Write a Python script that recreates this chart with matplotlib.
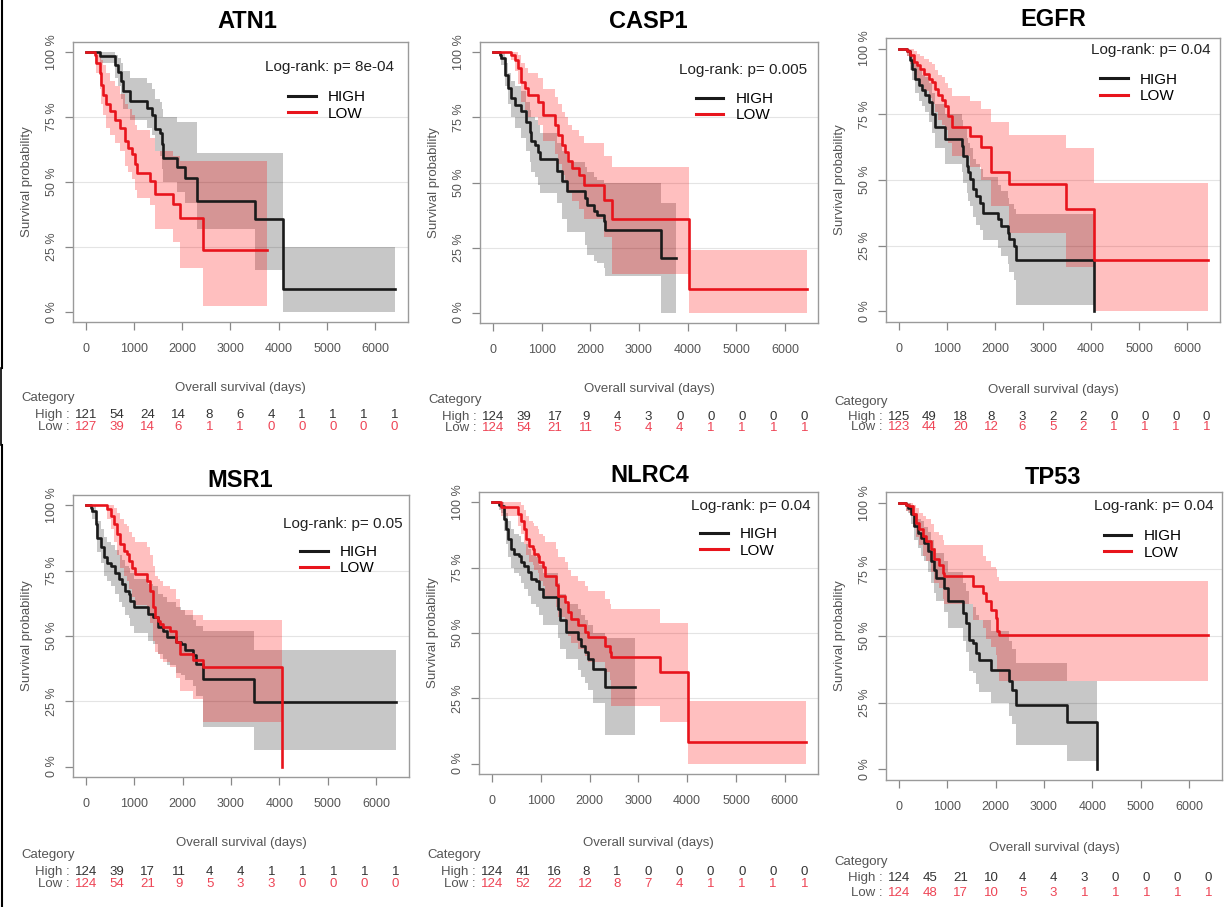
import numpy as np
import matplotlib
matplotlib.use("Agg")
import matplotlib.pyplot as plt
from matplotlib.lines import Line2D
from matplotlib.transforms import blended_transform_factory

plt.rcParams['font.family'] = ['Liberation Sans', 'DejaVu Sans']

W, H = 1231, 907

# ---------------- data ----------------
genes = ["ATN1", "CASP1", "EGFR", "MSR1", "NLRC4", "TP53"]
pvals = ["8e-04", "0.005", "0.04", "0.05", "0.04", "0.04"]
risk_times = [0, 640, 1280, 1920, 2560, 3200, 3840, 4480, 5120, 5760, 6400]

# ATN1
atn1_high_t = [0, 290, 602, 671, 740, 775, 913, 1260, 1363, 1433, 1536, 1571, 1606, 1882, 2055, 2298, 3509, 4083, 6415]
atn1_high_s = [1.0, 0.985, 0.951, 0.926, 0.888, 0.850, 0.811, 0.785, 0.760, 0.703, 0.690, 0.645, 0.594, 0.556, 0.517, 0.428, 0.358, 0.089, 0.089]
atn1_high_hi = [1.0, 1.0, 0.99, 0.98, 0.96, 0.93, 0.90, 0.88, 0.86, 0.82, 0.81, 0.78, 0.75, 0.73, 0.73, 0.61, 0.61, 0.25, 0.25]
atn1_high_lo = [1.0, 0.96, 0.90, 0.87, 0.82, 0.78, 0.74, 0.71, 0.68, 0.62, 0.60, 0.55, 0.50, 0.46, 0.42, 0.32, 0.16, 0.0, 0.0]
atn1_low_t = [0, 187, 221, 291, 325, 360, 429, 498, 602, 706, 810, 879, 948, 1017, 1052, 1329, 1433, 1813, 1952, 2436, 3751]
atn1_low_s = [1, 0.99, 0.96, 0.92, 0.875, 0.837, 0.80, 0.773, 0.741, 0.709, 0.658, 0.632, 0.607, 0.568, 0.536, 0.505, 0.453, 0.415, 0.36, 0.236, 0.236]
atn1_low_hi = [1, 1, 1, 0.99, 0.97, 0.95, 0.92, 0.89, 0.87, 0.84, 0.80, 0.78, 0.76, 0.72, 0.70, 0.67, 0.62, 0.60, 0.58, 0.58, 0.58]
atn1_low_lo = [1, 0.96, 0.92, 0.86, 0.80, 0.76, 0.71, 0.68, 0.65, 0.62, 0.56, 0.54, 0.51, 0.47, 0.44, 0.41, 0.32, 0.27, 0.17, 0.02, 0.02]
atn1_risk_high = [121, 54, 24, 14, 8, 6, 4, 1, 1, 1, 1]
atn1_risk_low = [127, 39, 14, 6, 1, 1, 0, 0, 0, 0, 0]

# CASP1
casp1_high_t = [0, 138, 172, 241, 310, 379, 448, 586, 690, 759, 793, 862, 931, 966, 1310, 1414, 1517, 1897, 1931, 2069, 2138, 2276, 2310, 3448, 3759]
casp1_high_s = [1, 0.99, 0.977, 0.913, 0.862, 0.824, 0.798, 0.773, 0.734, 0.696, 0.658, 0.645, 0.619, 0.59, 0.543, 0.505, 0.466, 0.441, 0.415, 0.39, 0.377, 0.351, 0.319, 0.211, 0.211]
casp1_high_hi = [1, 1, 1, 0.96, 0.92, 0.89, 0.87, 0.85, 0.81, 0.78, 0.75, 0.74, 0.72, 0.69, 0.65, 0.62, 0.58, 0.56, 0.54, 0.52, 0.51, 0.50, 0.50, 0.42, 0.42]
casp1_high_lo = [1, 0.97, 0.95, 0.87, 0.80, 0.75, 0.71, 0.67, 0.62, 0.58, 0.54, 0.52, 0.49, 0.46, 0.42, 0.36, 0.31, 0.26, 0.22, 0.20, 0.19, 0.17, 0.14, 0.0, 0.0]
casp1_low_t = [0, 379, 448, 517, 586, 655, 724, 931, 1034, 1276, 1345, 1414, 1483, 1552, 1621, 1759, 1862, 2276, 2448, 4034, 6448]
casp1_low_s = [1, 0.99, 0.971, 0.939, 0.888, 0.862, 0.837, 0.811, 0.760, 0.722, 0.683, 0.645, 0.619, 0.581, 0.556, 0.530, 0.492, 0.434, 0.361, 0.089, 0.089]
casp1_low_hi = [1, 1, 1, 0.99, 0.96, 0.94, 0.92, 0.90, 0.86, 0.83, 0.80, 0.77, 0.75, 0.72, 0.70, 0.68, 0.65, 0.60, 0.56, 0.24, 0.24]
casp1_low_lo = [1, 0.97, 0.93, 0.88, 0.81, 0.78, 0.75, 0.72, 0.66, 0.61, 0.57, 0.53, 0.50, 0.46, 0.43, 0.40, 0.36, 0.29, 0.15, 0.0, 0.0]
casp1_risk_high = [124, 39, 17, 9, 4, 3, 0, 0, 0, 0, 0]
casp1_risk_low = [124, 54, 21, 11, 5, 4, 4, 1, 1, 1, 1]

# EGFR
egfr_high_t = [0, 172, 241, 275, 344, 412, 481, 550, 619, 687, 756, 962, 1306, 1340, 1409, 1443, 1478, 1546, 1615, 1684, 1753, 2062, 2131, 2268, 2302, 2405, 2440, 4055]
egfr_high_s = [1, 0.99, 0.955, 0.924, 0.885, 0.860, 0.841, 0.822, 0.796, 0.752, 0.701, 0.656, 0.631, 0.592, 0.554, 0.529, 0.503, 0.465, 0.439, 0.414, 0.376, 0.350, 0.325, 0.299, 0.274, 0.248, 0.197, 0.0]
egfr_high_hi = [1, 1, 0.99, 0.97, 0.94, 0.92, 0.90, 0.89, 0.87, 0.83, 0.79, 0.75, 0.73, 0.70, 0.66, 0.64, 0.62, 0.58, 0.56, 0.54, 0.51, 0.48, 0.46, 0.43, 0.41, 0.39, 0.37, 0.37]
egfr_high_lo = [1, 0.97, 0.92, 0.88, 0.83, 0.80, 0.78, 0.76, 0.72, 0.68, 0.62, 0.56, 0.53, 0.49, 0.45, 0.42, 0.40, 0.36, 0.33, 0.31, 0.27, 0.24, 0.21, 0.18, 0.15, 0.12, 0.025, 0.025]
egfr_low_t = [0, 172, 241, 309, 378, 447, 515, 619, 687, 756, 825, 893, 962, 1031, 1100, 1478, 1718, 1924, 2302, 3471, 4055, 6426]
egfr_low_s = [1, 0.99, 0.975, 0.949, 0.936, 0.924, 0.904, 0.885, 0.873, 0.847, 0.822, 0.803, 0.783, 0.745, 0.701, 0.669, 0.624, 0.529, 0.484, 0.389, 0.197, 0.197]
egfr_low_hi = [1, 1, 1, 0.99, 0.98, 0.97, 0.96, 0.95, 0.94, 0.92, 0.90, 0.89, 0.87, 0.85, 0.82, 0.80, 0.77, 0.72, 0.67, 0.62, 0.49, 0.49]
egfr_low_lo = [1, 0.97, 0.94, 0.90, 0.88, 0.86, 0.84, 0.81, 0.79, 0.76, 0.73, 0.71, 0.69, 0.64, 0.59, 0.55, 0.50, 0.40, 0.30, 0.17, 0.0, 0.0]
egfr_risk_high = [125, 49, 18, 8, 3, 2, 2, 0, 0, 0, 0]
egfr_risk_low = [123, 44, 20, 12, 6, 5, 2, 1, 1, 1, 1]

# MSR1
msr1_high_t = [0, 102, 136, 205, 239, 307, 375, 443, 511, 613, 682, 750, 818, 886, 920, 988, 1295, 1397, 1500, 1602, 1670, 1874, 1977, 2045, 2215, 2284, 2420, 3477, 6409]
msr1_high_s = [1, 0.99, 0.978, 0.928, 0.877, 0.839, 0.801, 0.781, 0.769, 0.743, 0.718, 0.699, 0.673, 0.661, 0.635, 0.610, 0.585, 0.572, 0.534, 0.521, 0.496, 0.477, 0.470, 0.445, 0.426, 0.394, 0.337, 0.248, 0.248]
msr1_high_hi = [1, 1, 1, 0.97, 0.94, 0.91, 0.88, 0.86, 0.85, 0.83, 0.81, 0.79, 0.77, 0.76, 0.74, 0.72, 0.70, 0.69, 0.66, 0.65, 0.63, 0.61, 0.60, 0.58, 0.56, 0.54, 0.52, 0.445, 0.445]
msr1_high_lo = [1, 0.97, 0.95, 0.88, 0.82, 0.78, 0.73, 0.71, 0.69, 0.66, 0.63, 0.61, 0.58, 0.57, 0.54, 0.51, 0.48, 0.47, 0.43, 0.41, 0.39, 0.36, 0.35, 0.33, 0.31, 0.27, 0.15, 0.065, 0.065]
msr1_low_t = [0, 443, 511, 579, 648, 716, 784, 852, 886, 954, 1022, 1261, 1329, 1397, 1431, 1500, 1534, 1602, 1738, 1874, 1943, 2215, 2420, 4056]
msr1_low_s = [1, 0.985, 0.959, 0.928, 0.889, 0.851, 0.826, 0.813, 0.788, 0.762, 0.737, 0.712, 0.673, 0.610, 0.572, 0.559, 0.546, 0.534, 0.521, 0.477, 0.432, 0.407, 0.381, 0.0]
msr1_low_hi = [1, 1, 1, 0.99, 0.97, 0.95, 0.93, 0.92, 0.90, 0.88, 0.86, 0.84, 0.81, 0.77, 0.73, 0.72, 0.71, 0.69, 0.68, 0.64, 0.60, 0.58, 0.56, 0.56]
msr1_low_lo = [1, 0.95, 0.91, 0.86, 0.81, 0.76, 0.73, 0.71, 0.68, 0.65, 0.62, 0.59, 0.55, 0.48, 0.44, 0.43, 0.41, 0.40, 0.38, 0.34, 0.29, 0.26, 0.17, 0.17]
msr1_risk_high = [124, 39, 17, 11, 4, 4, 1, 1, 1, 1, 1]
msr1_risk_low = [124, 54, 21, 9, 5, 3, 3, 0, 0, 0, 0]

# NLRC4
nlrc4_high_t = [0, 151, 185, 254, 288, 322, 391, 460, 562, 597, 665, 734, 802, 905, 974, 1043, 1351, 1385, 1523, 1763, 1831, 1900, 1968, 2071, 2311, 2929]
nlrc4_high_s = [1, 0.99, 0.987, 0.936, 0.898, 0.860, 0.822, 0.803, 0.796, 0.771, 0.758, 0.732, 0.707, 0.701, 0.669, 0.637, 0.592, 0.548, 0.503, 0.478, 0.452, 0.427, 0.401, 0.363, 0.293, 0.293]
nlrc4_high_hi = [1, 1, 1, 0.98, 0.96, 0.93, 0.90, 0.88, 0.87, 0.85, 0.84, 0.82, 0.80, 0.79, 0.76, 0.73, 0.69, 0.65, 0.61, 0.59, 0.57, 0.55, 0.53, 0.50, 0.48, 0.48]
nlrc4_high_lo = [1, 0.97, 0.96, 0.89, 0.84, 0.79, 0.75, 0.73, 0.72, 0.69, 0.67, 0.64, 0.61, 0.60, 0.57, 0.53, 0.48, 0.44, 0.40, 0.36, 0.33, 0.31, 0.28, 0.23, 0.11, 0.11]
nlrc4_low_t = [0, 185, 528, 597, 665, 700, 768, 837, 871, 940, 974, 1043, 1077, 1317, 1351, 1488, 1557, 1626, 1763, 1900, 1968, 2311, 2414, 2449, 3443, 4026, 6427]
nlrc4_low_s = [1, 0.981, 0.955, 0.930, 0.898, 0.860, 0.834, 0.822, 0.803, 0.796, 0.771, 0.752, 0.720, 0.682, 0.643, 0.618, 0.580, 0.554, 0.529, 0.503, 0.484, 0.452, 0.427, 0.408, 0.350, 0.083, 0.083]
nlrc4_low_hi = [1, 1, 1, 0.99, 0.97, 0.95, 0.93, 0.92, 0.91, 0.90, 0.88, 0.87, 0.85, 0.82, 0.79, 0.77, 0.74, 0.72, 0.70, 0.68, 0.66, 0.63, 0.61, 0.59, 0.54, 0.24, 0.24]
nlrc4_low_lo = [1, 0.95, 0.91, 0.88, 0.84, 0.80, 0.77, 0.76, 0.74, 0.73, 0.70, 0.68, 0.64, 0.60, 0.56, 0.53, 0.49, 0.46, 0.44, 0.41, 0.39, 0.35, 0.32, 0.22, 0.16, 0.0, 0.0]
nlrc4_risk_high = [124, 41, 16, 8, 1, 0, 0, 0, 0, 0, 0]
nlrc4_risk_low = [124, 52, 22, 12, 8, 7, 4, 1, 1, 1, 1]

# TP53
tp53_high_t = [0, 151, 185, 254, 323, 391, 460, 528, 597, 666, 734, 769, 940, 1009, 1318, 1386, 1455, 1524, 1592, 1661, 1901, 2279, 2347, 2416, 3480, 4097]
tp53_high_s = [1, 0.99, 0.981, 0.956, 0.912, 0.887, 0.868, 0.850, 0.818, 0.781, 0.749, 0.718, 0.680, 0.630, 0.586, 0.549, 0.486, 0.474, 0.436, 0.411, 0.373, 0.330, 0.298, 0.242, 0.179, 0.0]
tp53_high_hi = [1, 1, 1, 0.99, 0.96, 0.94, 0.93, 0.91, 0.89, 0.86, 0.83, 0.81, 0.78, 0.74, 0.70, 0.67, 0.62, 0.61, 0.58, 0.56, 0.52, 0.48, 0.45, 0.40, 0.33, 0.33]
tp53_high_lo = [1, 0.97, 0.96, 0.92, 0.86, 0.83, 0.80, 0.78, 0.74, 0.70, 0.66, 0.63, 0.59, 0.53, 0.48, 0.44, 0.37, 0.36, 0.32, 0.29, 0.25, 0.20, 0.17, 0.09, 0.03, 0.03]
tp53_low_t = [0, 151, 220, 288, 357, 426, 494, 563, 666, 734, 837, 906, 940, 1524, 1730, 1798, 1901, 2004, 2038, 2073, 6397]
tp53_low_s = [1, 0.99, 0.987, 0.956, 0.925, 0.900, 0.875, 0.856, 0.825, 0.787, 0.768, 0.737, 0.724, 0.687, 0.662, 0.630, 0.599, 0.568, 0.518, 0.505, 0.505]
tp53_low_hi = [1, 1, 1, 0.99, 0.98, 0.96, 0.95, 0.94, 0.92, 0.89, 0.88, 0.86, 0.84, 0.84, 0.80, 0.78, 0.76, 0.75, 0.72, 0.705, 0.705]
tp53_low_lo = [1, 0.97, 0.96, 0.91, 0.87, 0.84, 0.80, 0.78, 0.74, 0.70, 0.68, 0.64, 0.62, 0.56, 0.53, 0.49, 0.46, 0.43, 0.37, 0.33, 0.33]
tp53_risk_high = [124, 45, 21, 10, 4, 4, 3, 0, 0, 0, 0]
tp53_risk_low = [124, 48, 17, 10, 5, 3, 1, 1, 1, 1, 1]

panels = [
    dict(high=(atn1_high_t, atn1_high_s, atn1_high_lo, atn1_high_hi), low=(atn1_low_t, atn1_low_s, atn1_low_lo, atn1_low_hi), rh=atn1_risk_high, rl=atn1_risk_low),
    dict(high=(casp1_high_t, casp1_high_s, casp1_high_lo, casp1_high_hi), low=(casp1_low_t, casp1_low_s, casp1_low_lo, casp1_low_hi), rh=casp1_risk_high, rl=casp1_risk_low),
    dict(high=(egfr_high_t, egfr_high_s, egfr_high_lo, egfr_high_hi), low=(egfr_low_t, egfr_low_s, egfr_low_lo, egfr_low_hi), rh=egfr_risk_high, rl=egfr_risk_low),
    dict(high=(msr1_high_t, msr1_high_s, msr1_high_lo, msr1_high_hi), low=(msr1_low_t, msr1_low_s, msr1_low_lo, msr1_low_hi), rh=msr1_risk_high, rl=msr1_risk_low),
    dict(high=(nlrc4_high_t, nlrc4_high_s, nlrc4_high_lo, nlrc4_high_hi), low=(nlrc4_low_t, nlrc4_low_s, nlrc4_low_lo, nlrc4_low_hi), rh=nlrc4_risk_high, rl=nlrc4_risk_low),
    dict(high=(tp53_high_t, tp53_high_s, tp53_high_lo, tp53_high_hi), low=(tp53_low_t, tp53_low_s, tp53_low_lo, tp53_low_hi), rh=tp53_risk_high, rl=tp53_risk_low),
]

# ---------------- layout (pixels) ----------------
# axes box: left, top, right, bottom
boxes = [(73, 42, 408, 322), (480, 42, 818, 323), (886, 38, 1220, 322),
         (73, 495, 409, 777), (479, 492, 818, 774), (886, 492, 1222, 780)]
titles_xy = [(247, 22), (648, 22), (1053, 20), (240, 480), (650, 476), (1053, 478)]
logrank_xy = [(6380, 0.945), (6448, 0.932), (6495, 0.994), (6544, 0.928), (6530, 0.987), (6500, 0.987)]
legend_xy = [(4200, 0.795), (4172, 0.79), (4192, 0.85), (4431, 0.79), (4266, 0.847), (4235, 0.843)]
xlabel_y = [388, 389, 390, 843, 843, 848]
risk_rows_y = [(398, 415, 427), (400, 417, 428), (402, 417, 427), (855, 872, 884), (855, 872, 884), (862, 878, 893)]

XLIM = (-265, 6680)
YLIM = (-0.04, 1.04)

BLACK = "#1a1a1a"
RED = "#e8141c"
GRAY_TXT = "#555555"
SMALL = 9.5

fig = plt.figure(figsize=(W / 100, H / 100), dpi=100)
fig.patch.set_facecolor("white")

def fx(x):
    return x / W

def fy(y):
    return 1 - y / H

for i, (p, box) in enumerate(zip(panels, boxes)):
    l, t, r, b = box
    ax = fig.add_axes([fx(l), fy(b), (r - l) / W, (b - t) / H])
    ax.set_xlim(*XLIM)
    ax.set_ylim(*YLIM)
    for yv in (0.25, 0.5, 0.75):
        ax.axhline(yv, color="#e4e4e4", lw=0.8, zorder=0)

    ht, hs, hlo, hhi = p["high"]
    lt, ls, llo, lhi = p["low"]
    ax.fill_between(ht, hlo, hhi, step="post", color="black", alpha=0.22, lw=0, zorder=1)
    ax.fill_between(lt, llo, lhi, step="post", color="#ff0000", alpha=0.25, lw=0, zorder=1)
    ax.step(ht, hs, where="post", color=BLACK, lw=1.9, zorder=3)
    ax.step(lt, ls, where="post", color=RED, lw=1.9, zorder=3)

    ax.set_xticks([0, 1000, 2000, 3000, 4000, 5000, 6000])
    ax.set_xticklabels(["0", "1000", "2000", "3000", "4000", "5000", "6000"])
    ax.set_yticks([0, 0.25, 0.5, 0.75, 1.0])
    ax.set_yticklabels(["0 %", "25 %", "50 %", "75 %", "100 %"], rotation=90, va="center")
    ax.tick_params(axis="both", direction="out", length=6, width=0.9, color="#888888",
                   labelcolor=GRAY_TXT, labelsize=9)
    ax.tick_params(axis="x", pad=9)
    ax.tick_params(axis="y", pad=5)
    for sp in ax.spines.values():
        sp.set_color("#9a9a9a")
        sp.set_linewidth(1.0)

    ax.set_ylabel("Survival probability", color=GRAY_TXT, fontsize=SMALL, labelpad=9)

    # log-rank text
    lx, ly = logrank_xy[i]
    ax.text(lx, ly, "Log-rank: p= " + pvals[i], ha="right", va="center",
            fontsize=11, color="#222222")

    # legend
    gx, gy = legend_xy[i]
    ax_fx = (gx - XLIM[0]) / (XLIM[1] - XLIM[0])
    ax_fy = (gy - YLIM[0]) / (YLIM[1] - YLIM[0])
    handles = [Line2D([], [], color=BLACK, lw=2.2), Line2D([], [], color=RED, lw=2.2)]
    ax.legend(handles, ["HIGH", "LOW"], loc="center left", bbox_to_anchor=(ax_fx, ax_fy),
              frameon=False, fontsize=11, handlelength=1.8, handletextpad=0.8,
              labelspacing=0.15, borderpad=0, borderaxespad=0)

    # title
    tx, ty = titles_xy[i]
    fig.text(fx(tx), fy(ty), genes[i], ha="center", va="center", fontsize=17,
             fontweight="bold", color="black")

    # x label
    fig.text(fx((l + r) / 2), fy(xlabel_y[i]), "Overall survival (days)", ha="center",
             va="center", fontsize=SMALL, color=GRAY_TXT)

    # risk table
    cy, hy, lyy = risk_rows_y[i]
    trans = blended_transform_factory(ax.transData, fig.transFigure)
    fig.text(fx(l - 52), fy(cy), "Category", ha="left", va="center", fontsize=SMALL, color=GRAY_TXT)
    ax.text(-340, fy(hy), "High :", transform=trans, ha="right", va="center",
            fontsize=SMALL, color=GRAY_TXT, clip_on=False)
    ax.text(-340, fy(lyy), "Low :", transform=trans, ha="right", va="center",
            fontsize=SMALL, color=GRAY_TXT, clip_on=False)
    for tt, nh, nl in zip(risk_times, p["rh"], p["rl"]):
        ax.text(tt, fy(hy), str(nh), transform=trans, ha="center", va="center",
                fontsize=SMALL, color="#333333", clip_on=False)
        ax.text(tt, fy(lyy), str(nl), transform=trans, ha="center", va="center",
                fontsize=SMALL, color="#ee4455", clip_on=False)

# left border lines
fig.add_artist(Line2D([fx(2.5), fx(2.5)], [fy(0), fy(368)], color="black", lw=1.5))
fig.add_artist(Line2D([fx(0.8), fx(0.8)], [fy(368), fy(445)], color="black", lw=1.2))
fig.add_artist(Line2D([fx(2.5), fx(2.5)], [fy(445), fy(907)], color="black", lw=1.5))

fig.savefig("out.png", dpi=100, facecolor="white")
